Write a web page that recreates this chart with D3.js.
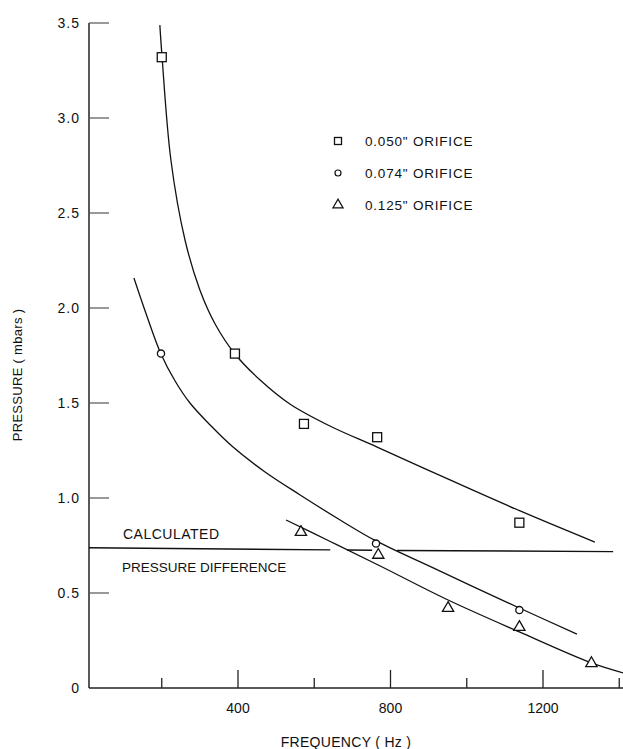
<!DOCTYPE html>
<html>
<head>
<meta charset="utf-8">
<script src="https://cdn.jsdelivr.net/npm/d3@7"></script>
<style>
  html, body { margin: 0; padding: 0; background: #fff; }
  svg { display: block; }
  text { font-family: "Liberation Sans", Arial, sans-serif; fill: #111; }
</style>
</head>
<body>
<svg id="chart" width="623" height="749"></svg>
<script>
// ---- data ----
const xTicks = [200, 400, 600, 800, 1000, 1200, 1400];
const xTickLabels = ["400", "800", "1200"];
const yTicks = [0, 0.5, 1.0, 1.5, 2.0, 2.5, 3.0, 3.5];
const yTickLabels = ["0", "0.5", "1.0", "1.5", "2.0", "2.5", "3.0", "3.5"];

const seriesNames = ['0.050" ORIFICE', '0.074" ORIFICE', '0.125" ORIFICE'];

// measured points
const orifice050 = [[200, 3.32], [392, 1.76], [573, 1.39], [765, 1.32], [1138, 0.87]];
const orifice074 = [[198, 1.76], [762, 0.76], [1138, 0.41]];
const orifice125 = [[565, 0.82], [768, 0.70], [951, 0.42], [1138, 0.32], [1327, 0.13]];

// hand-drawn fitted curves
const curve050 = [[195, 3.489], [201, 3.316], [224, 2.779], [261, 2.358], [300, 2.095], [340, 1.916],
  [392, 1.758], [458, 1.621], [536, 1.495], [641, 1.379], [765, 1.268], [956, 1.095], [1140, 0.932],
  [1336, 0.768]];
const curve074 = [[127, 2.158], [161, 1.958], [198, 1.758], [235, 1.616], [274, 1.50], [327, 1.384],
  [387, 1.268], [471, 1.137], [563, 1.016], [668, 0.884], [762, 0.774], [912, 0.632], [1138, 0.421],
  [1289, 0.284]];
const curve125 = [[526, 0.884], [642, 0.771], [773, 0.642], [951, 0.463], [1138, 0.295], [1327, 0.132],
  [1411, 0.079]];

// calculated pressure difference line (drawn with small breaks)
const calcSegments = [
  [[9, 0.738], [642, 0.727]],
  [[686, 0.726], [752, 0.725]],
  [[817, 0.724], [1384, 0.718]]
];

// ---- drawing ----
const svg = d3.select("#chart");
const x = d3.scaleLinear().domain([0, 1400]).range([85.5, 619.25]);
const y = d3.scaleLinear().domain([0, 3.5]).range([688, 23]);
const axisX = 89;

const g = svg.append("g");

// Y axis line
g.append("line").attr("x1", axisX).attr("x2", axisX).attr("y1", y(3.5)).attr("y2", y(0))
  .attr("stroke", "#222").attr("stroke-width", 1.5);
// X axis line
g.append("line").attr("x1", axisX).attr("x2", 623).attr("y1", y(0)).attr("y2", y(0))
  .attr("stroke", "#222").attr("stroke-width", 1.6);

// Y ticks (inward) + labels
g.selectAll(".ytick").data(yTicks.filter(v => v > 0)).enter().append("line")
  .attr("x1", axisX).attr("x2", axisX + 20)
  .attr("y1", d => y(d)).attr("y2", d => y(d))
  .attr("stroke", "#555").attr("stroke-width", 1.2);
g.selectAll(".ylab").data(yTicks).enter().append("text")
  .attr("x", 80).attr("y", d => y(d)).attr("dy", "0.35em")
  .attr("text-anchor", "end").attr("font-size", 14).attr("letter-spacing", 1)
  .text((d, i) => yTickLabels[i]);

// X ticks (upward) + labels
g.selectAll(".xtick").data(xTicks).enter().append("line")
  .attr("x1", d => x(d)).attr("x2", d => x(d))
  .attr("y1", y(0)).attr("y2", d => y(0) - (d % 400 === 0 ? 18 : 10))
  .attr("stroke", "#222").attr("stroke-width", 1.3);
g.selectAll(".xlab").data(xTickLabels).enter().append("text")
  .attr("x", d => x(+d)).attr("y", 713)
  .attr("text-anchor", "middle").attr("font-size", 14)
  .text(d => d);

// axis titles
g.append("text").attr("transform", "translate(22,375) rotate(-90)")
  .attr("text-anchor", "middle").attr("font-size", 13).attr("letter-spacing", 0.3)
  .text("PRESSURE ( mbars )");
g.append("text").attr("x", 346).attr("y", 747)
  .attr("text-anchor", "middle").attr("font-size", 14).attr("letter-spacing", 0.3)
  .text("FREQUENCY ( Hz )");

// curves
const line = d3.line().x(d => x(d[0])).y(d => y(d[1])).curve(d3.curveCatmullRom.alpha(0.5));
[curve050, curve074, curve125].forEach(c => {
  g.append("path").attr("d", line(c)).attr("fill", "none")
    .attr("stroke", "#111").attr("stroke-width", 1.3);
});

// calculated line
const straight = d3.line().x(d => x(d[0])).y(d => y(d[1]));
calcSegments.forEach(s => {
  g.append("path").attr("d", straight(s)).attr("fill", "none")
    .attr("stroke", "#111").attr("stroke-width", 1.4);
});
g.append("text").attr("x", 123).attr("y", 539).attr("font-size", 14).attr("letter-spacing", 0.5)
  .text("CALCULATED");
g.append("text").attr("x", 122).attr("y", 572).attr("font-size", 13.5).attr("letter-spacing", 0)
  .text("PRESSURE DIFFERENCE");

// markers
const sq = (sel, size) => sel.append("rect")
  .attr("width", size).attr("height", size)
  .attr("fill", "#fff").attr("stroke", "#111").attr("stroke-width", 1.3);
const tri = d3.symbol().type(d3.symbolTriangle);

orifice050.forEach(p => {
  sq(g, 9).attr("x", x(p[0]) - 4.5).attr("y", y(p[1]) - 4.5);
});
orifice074.forEach(p => {
  g.append("circle").attr("cx", x(p[0])).attr("cy", y(p[1])).attr("r", 3.6)
    .attr("fill", "#fff").attr("stroke", "#111").attr("stroke-width", 1.3);
});
orifice125.forEach(p => {
  g.append("path").attr("d", tri.size(55)())
    .attr("transform", `translate(${x(p[0])},${y(p[1])})`)
    .attr("fill", "#fff").attr("stroke", "#111").attr("stroke-width", 1.3);
});

// legend
const legendY = [141, 173, 205];
const lg = g.append("g");
sq(lg, 7).attr("x", 338 - 3.5).attr("y", legendY[0] - 3.5);
lg.append("circle").attr("cx", 338).attr("cy", legendY[1]).attr("r", 3)
  .attr("fill", "#fff").attr("stroke", "#111").attr("stroke-width", 1.2);
lg.append("path").attr("d", tri.size(45)())
  .attr("transform", `translate(338,${legendY[2]})`)
  .attr("fill", "#fff").attr("stroke", "#111").attr("stroke-width", 1.2);
lg.selectAll(".legtxt").data(seriesNames).enter().append("text")
  .attr("x", 365).attr("y", (d, i) => legendY[i]).attr("dy", "0.38em")
  .attr("font-size", 13.5).attr("letter-spacing", 0.8)
  .text(d => d);
</script>
</body>
</html>
